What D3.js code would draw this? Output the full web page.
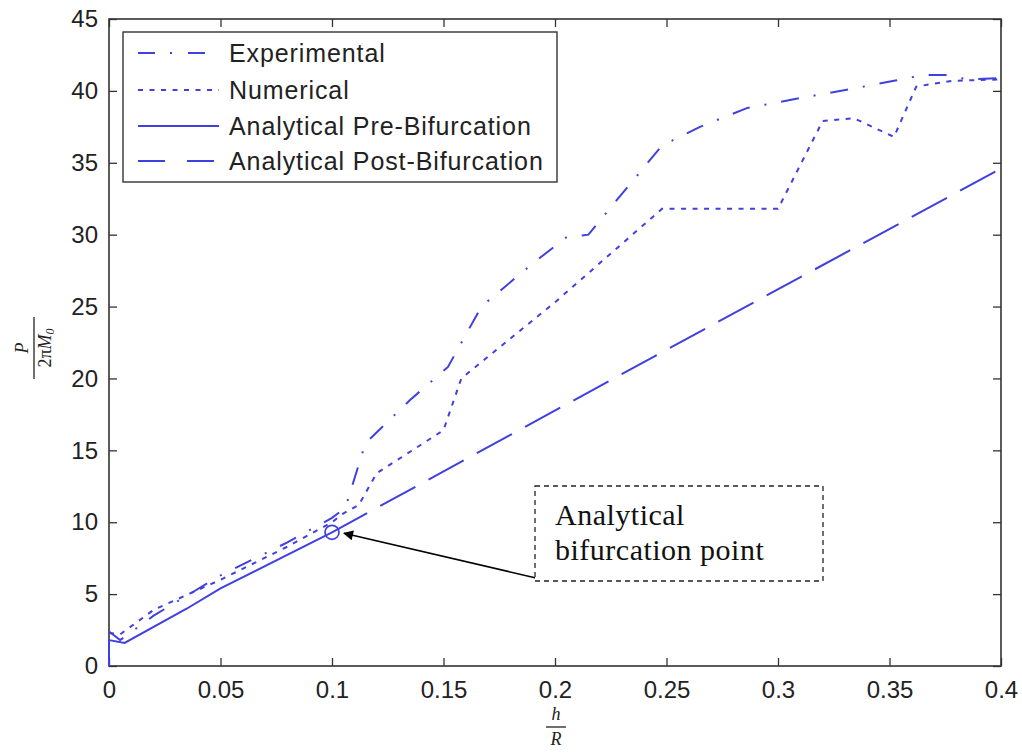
<!DOCTYPE html>
<html><head><meta charset="utf-8">
<script src="https://cdn.jsdelivr.net/npm/d3@7"></script>
<style>body{margin:0;background:#fff}svg{display:block}</style>
</head><body><svg id="c" width="1022" height="754"></svg>
<script>
const xTicks = [0,0.05,0.1,0.15,0.2,0.25,0.3,0.35,0.4];
const xTickLabels = ["0","0.05","0.1","0.15","0.2","0.25","0.3","0.35","0.4"];
const yTicks = [0,5,10,15,20,25,30,35,40,45];
const seriesNames = ["Experimental","Numerical","Analytical Pre-Bifurcation","Analytical Post-Bifurcation"];
const experimental = [[0,2.4],[0.005,1.8],[0.02,3.5],[0.05,6.3],[0.08,8.6],[0.1,10.3],[0.106,11],[0.115,15.5],[0.135,18.5],[0.152,20.8],[0.167,25],[0.19,28],[0.205,29.8],[0.215,30],[0.225,31.9],[0.248,36.2],[0.265,37.5],[0.286,38.8],[0.31,39.5],[0.335,40.2],[0.352,40.7],[0.365,41.1],[0.375,41.1],[0.385,40.8],[0.4,40.9]];
const numerical = [[0,2.3],[0.005,2.2],[0.02,3.9],[0.05,6.0],[0.08,8.3],[0.1,10],[0.105,10.6],[0.112,11.2],[0.12,13.4],[0.15,16.4],[0.158,20],[0.2,25.3],[0.248,31.8],[0.3,31.8],[0.32,37.9],[0.334,38.1],[0.352,36.8],[0.362,40.3],[0.378,40.7],[0.4,40.8]];
const preBifurcation = [[0,0],[0,1.8],[0.007,1.6],[0.035,4.0],[0.05,5.4],[0.1,9.3]];
const postBifurcation = [[0.1,9.3],[0.25,22],[0.4,34.6]];
const bifurcationPoint = [0.1,9.3];
const annotationLines = ["Analytical","bifurcation point"];

const svg = d3.select("#c");
const L=109,R=1001,T=19,B=666;
const x = d3.scaleLinear().domain([0,0.4]).range([L,R]);
const y = d3.scaleLinear().domain([0,45]).range([B,T]);
const blue = "#4040e0";
const styles = [
  {dash:"18,15,2,15", legDash:"17,15,2,16"},
  {dash:"5,6.5", legDash:"5,6.5"},
  {dash:null, legDash:null},
  {dash:"40,15", legDash:"27,22"}
];
const tickFont = "'Liberation Sans', Arial, sans-serif";

const xAxisB = d3.axisBottom(x).tickValues(xTicks).tickFormat((d,i)=>xTickLabels[i]).tickSizeInner(-8).tickSizeOuter(0).tickPadding(15);
const gB = svg.append("g").attr("transform",`translate(0,${B})`).call(xAxisB);
const gT = svg.append("g").attr("transform",`translate(0,${T})`).call(d3.axisTop(x).tickValues(xTicks).tickFormat("").tickSizeInner(-8).tickSizeOuter(0));
const gL = svg.append("g").attr("transform",`translate(${L},0)`).call(d3.axisLeft(y).tickValues(yTicks).tickSizeInner(-8).tickSizeOuter(0).tickPadding(11));
const gR = svg.append("g").attr("transform",`translate(${R},0)`).call(d3.axisRight(y).tickValues(yTicks).tickFormat("").tickSizeInner(-8).tickSizeOuter(0));
[gB,gT,gL,gR].forEach(g=>{
  g.select(".domain").remove();
  g.selectAll("line").attr("stroke","#333").attr("stroke-width",1.3);
  g.selectAll("text").attr("font-family",tickFont).attr("font-size",24).attr("fill","#222");
});
svg.append("rect").attr("x",L).attr("y",T).attr("width",R-L).attr("height",B-T)
  .attr("fill","none").attr("stroke","#333").attr("stroke-width",1.6);

const line = d3.line().x(d=>x(d[0])).y(d=>y(d[1]));
const data = [experimental,numerical,preBifurcation,postBifurcation];
data.forEach((ds,i)=>{
  svg.append("path").datum(ds).attr("d",line).attr("fill","none")
    .attr("stroke",blue).attr("stroke-width",2)
    .attr("stroke-dasharray",styles[i].dash);
});
svg.append("circle").attr("cx",x(bifurcationPoint[0])).attr("cy",y(bifurcationPoint[1])).attr("r",7)
  .attr("fill","none").attr("stroke",blue).attr("stroke-width",1.7);

// legend
const lg = svg.append("g");
lg.append("rect").attr("x",123).attr("y",32).attr("width",434).attr("height",150)
  .attr("fill","#fff").attr("stroke","#333").attr("stroke-width",1.4);
const ly = [53,90,126,161];
seriesNames.forEach((n,i)=>{
  lg.append("line").attr("x1",138).attr("x2",219).attr("y1",ly[i]).attr("y2",ly[i])
    .attr("stroke",blue).attr("stroke-width",2).attr("stroke-dasharray",styles[i].legDash);
  lg.append("text").attr("x",229).attr("y",ly[i]+9).text(n)
    .attr("font-family",tickFont).attr("font-size",25).attr("letter-spacing",0.9).attr("fill","#222");
});

// annotation
svg.append("defs").append("marker").attr("id","ah").attr("viewBox","0 0 10 10")
  .attr("refX",9).attr("refY",5).attr("markerWidth",15).attr("markerHeight",10)
  .attr("markerUnits","userSpaceOnUse").attr("orient","auto")
  .append("path").attr("d","M0,0L10,5L0,10z").attr("fill","#000");
svg.append("line").attr("x1",536).attr("y1",578).attr("x2",x(bifurcationPoint[0])+12).attr("y2",y(bifurcationPoint[1])+1)
  .attr("stroke","#000").attr("stroke-width",1.6).attr("marker-end","url(#ah)");
svg.append("rect").attr("x",535).attr("y",486).attr("width",288).attr("height",95)
  .attr("fill","#fff").attr("stroke","#222").attr("stroke-width",1.3).attr("stroke-dasharray","5,4");
annotationLines.forEach((t,i)=>{
  svg.append("text").attr("x",555).attr("y",525+i*35).text(t)
    .attr("font-family","'Liberation Serif','Times New Roman',serif").attr("font-size",30).attr("letter-spacing",0.5).attr("fill","#111");
});

// axis labels (fractions)
const serif = "'Liberation Serif','Times New Roman',serif";
const xl = svg.append("g").attr("transform","translate(556,0)").attr("font-family",serif).attr("font-style","italic").attr("font-size",18).attr("fill","#222");
xl.append("text").attr("x",0).attr("y",720).attr("text-anchor","middle").text("h");
xl.append("line").attr("x1",-10).attr("x2",10).attr("y1",727).attr("y2",727).attr("stroke","#222").attr("stroke-width",1.3);
xl.append("text").attr("x",0).attr("y",745).attr("text-anchor","middle").text("R");
const yl = svg.append("g").attr("transform","translate(33,348) rotate(-90)").attr("font-family",serif).attr("font-style","italic").attr("font-size",18).attr("fill","#222");
yl.append("text").attr("x",0).attr("y",-5).attr("text-anchor","middle").text("P");
yl.append("line").attr("x1",-31).attr("x2",31).attr("y1",1).attr("y2",1).attr("stroke","#222").attr("stroke-width",1.3);
const yd = yl.append("text").attr("x",0).attr("y",18).attr("text-anchor","middle");
yd.append("tspan").attr("font-style","normal").text("2π");
yd.append("tspan").text("M");
yd.append("tspan").attr("font-size",12).attr("dy",3).text("0");
</script></body></html>
